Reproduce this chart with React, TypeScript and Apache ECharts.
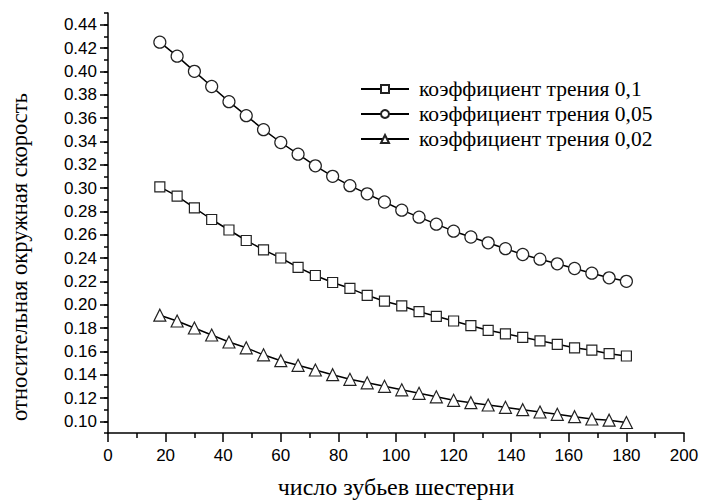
import React, { useEffect, useRef } from "react";
import * as echarts from "echarts";

const teeth = [18, 24, 30, 36, 42, 48, 54, 60, 66, 72, 78, 84, 90, 96, 102, 108, 114, 120, 126, 132, 138, 144, 150, 156, 162, 168, 174, 180];

const friction01 = [0.301, 0.293, 0.283, 0.273, 0.264, 0.255, 0.247, 0.240, 0.232, 0.225, 0.219, 0.214, 0.208, 0.203, 0.199, 0.194, 0.190, 0.186, 0.182, 0.178, 0.175, 0.172, 0.169, 0.166, 0.163, 0.161, 0.158, 0.156];
const friction005 = [0.425, 0.413, 0.400, 0.387, 0.374, 0.362, 0.350, 0.339, 0.329, 0.319, 0.310, 0.302, 0.295, 0.288, 0.281, 0.275, 0.269, 0.263, 0.258, 0.253, 0.248, 0.243, 0.239, 0.235, 0.231, 0.227, 0.223, 0.220];
const friction002 = [0.191, 0.186, 0.180, 0.174, 0.168, 0.163, 0.157, 0.152, 0.148, 0.144, 0.140, 0.136, 0.133, 0.130, 0.127, 0.124, 0.121, 0.118, 0.116, 0.114, 0.112, 0.110, 0.108, 0.106, 0.104, 0.102, 0.101, 0.099];

const seriesNames = ["коэффициент трения 0,1", "коэффициент трения 0,05", "коэффициент трения 0,02"];
const yMajorTicks = [0.10, 0.12, 0.14, 0.16, 0.18, 0.20, 0.22, 0.24, 0.26, 0.28, 0.30, 0.32, 0.34, 0.36, 0.38, 0.40, 0.42, 0.44];
const xTitle = "число зубьев шестерни";
const yTitle = "относительная окружная скорость";

const SANS = "'Liberation Sans', Arial, sans-serif";
const SERIF = "'Liberation Serif', 'Times New Roman', serif";

export default function App() {
  const ref = useRef<HTMLDivElement>(null);
  useEffect(() => {
    if (!ref.current) return;
    const chart = echarts.init(ref.current, undefined, { renderer: "svg" });
    const mk = (vals: number[]) => teeth.map((x, i) => [x, vals[i]]);
    const seriesData = [friction01, friction005, friction002];
    const symbols = ["rect", "circle", "triangle"];
    const sizes = [10, 12, 12];
    chart.setOption({
      animation: false,
      backgroundColor: "#fff",
      grid: { left: 108, right: 18, top: 13, bottom: 67, containLabel: false },
      legend: {
        orient: "vertical",
        left: 355,
        top: 73,
        padding: 5,
        itemWidth: 48,
        itemHeight: 10,
        itemGap: 3,
        textStyle: { fontFamily: SERIF, fontSize: 21.5, color: "#000", padding: [0, 0, 0, 5] },
        data: seriesNames,
      },
      xAxis: {
        type: "value",
        min: 0,
        max: 200,
        interval: 20,
        name: xTitle,
        nameLocation: "middle",
        nameGap: 42,
        nameTextStyle: { fontFamily: SERIF, fontSize: 24, color: "#000" },
        axisLine: { show: true, onZero: false, lineStyle: { color: "#000", width: 1.5 } },
        axisTick: { show: true, length: 9, lineStyle: { color: "#000", width: 1.5 } },
        minorTick: { show: true, splitNumber: 2, length: 5, lineStyle: { color: "#000", width: 1.5 } },
        axisLabel: { margin: 14, fontFamily: SANS, fontSize: 17, color: "#000" },
        splitLine: { show: false },
      },
      yAxis: [
        {
          type: "value",
          min: 0.09,
          max: 0.45,
          interval: 0.01,
          position: "left",
          axisLine: { show: true, onZero: false, lineStyle: { color: "#000", width: 1.5 } },
          axisTick: { show: true, length: 4, lineStyle: { color: "#000", width: 1.5 } },
          axisLabel: {
            margin: 11,
            fontFamily: SANS,
            fontSize: 17,
            color: "#000",
            formatter: (v: number) => (Math.round(v * 100) % 2 === 0 ? v.toFixed(2) : ""),
          },
          splitLine: { show: false },
        },
        {
          type: "value",
          min: 0.09,
          max: 0.45,
          position: "left",
          axisLine: { show: false },
          axisTick: { show: true, length: 8, customValues: yMajorTicks, lineStyle: { color: "#000", width: 1.5 } },
          axisLabel: { show: false },
          splitLine: { show: false },
        },
      ],
      graphic: [
        {
          type: "text",
          x: 19,
          y: 257,
          rotation: Math.PI / 2,
          style: {
            text: yTitle,
            fontFamily: SERIF,
            fontSize: 22.5,
            fill: "#000",
            align: "center",
            verticalAlign: "middle",
          },
        },
      ],
      series: seriesNames.map((name, i) => ({
        name,
        type: "line",
        data: mk(seriesData[i]),
        symbol: symbols[i],
        symbolSize: sizes[i],
        showAllSymbol: true,
        lineStyle: { color: "#000", width: 1.5 },
        itemStyle: { color: "#fff", borderColor: "#222", borderWidth: 1.2 },
      })),
    });
    return () => chart.dispose();
  }, []);
  return <div ref={ref} style={{ width: 702, height: 504, position: "absolute", left: 0, top: 0 }} />;
}
